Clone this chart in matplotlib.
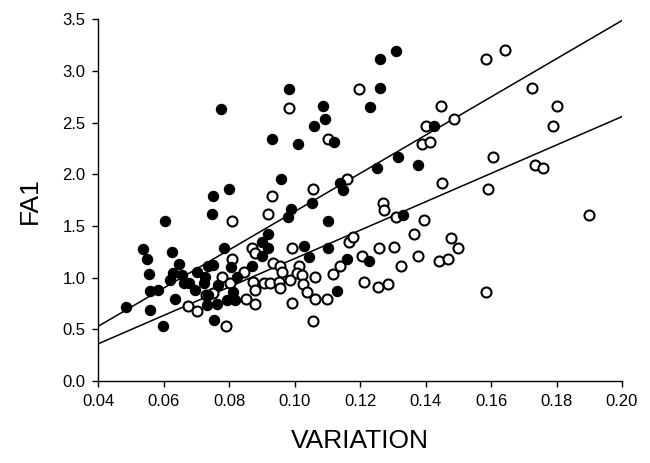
import numpy as np
import matplotlib
matplotlib.use("Agg")
from matplotlib import pyplot as plt

# group 1 (filled symbols)
filled_x = [0.0485, 0.0536, 0.0550, 0.0554, 0.0557, 0.0559, 0.0584, 0.0599, 0.0605, 0.0625,
            0.0630, 0.0648, 0.0620, 0.0635, 0.0656, 0.0661, 0.0676, 0.0696, 0.0701, 0.0722,
            0.0734, 0.0727, 0.0737, 0.0732, 0.0754, 0.0762, 0.0767, 0.0752, 0.0747, 0.0752,
            0.0775, 0.0785, 0.0801, 0.0793, 0.0818, 0.0812, 0.0805, 0.0824, 0.0869, 0.0900,
            0.0900, 0.0920, 0.0920, 0.0932, 0.0959, 0.0984, 0.0981, 0.0989, 0.1010, 0.1029,
            0.1045, 0.1053, 0.1060, 0.1086, 0.1093, 0.1103, 0.1103, 0.1121, 0.1129, 0.1139,
            0.1147, 0.1161, 0.1228, 0.1251, 0.1261, 0.1310, 0.1261, 0.1231, 0.1317, 0.1378,
            0.1427, 0.1330]
filled_y = [0.72, 1.28, 1.18, 1.04, 0.87, 0.69, 0.88, 0.53, 1.55, 1.25,
            1.05, 1.13, 0.98, 0.79, 1.03, 0.95, 0.95, 0.88, 1.06, 0.95,
            1.11, 1.01, 0.83, 0.74, 0.59, 0.75, 0.93, 1.12, 1.62, 1.79,
            2.63, 1.29, 1.86, 0.78, 0.78, 0.86, 1.10, 1.01, 1.11, 1.21,
            1.35, 1.29, 1.42, 2.34, 1.96, 2.83, 1.59, 1.67, 2.29, 1.31,
            1.20, 1.72, 2.47, 2.66, 2.54, 1.29, 1.55, 2.31, 0.87, 1.92,
            1.85, 1.18, 1.16, 2.06, 3.12, 3.19, 2.84, 2.65, 2.17, 2.09,
            2.47, 1.61]

# group 2 (open symbols)
open_x = [0.0674, 0.0703, 0.0730, 0.0752, 0.0777, 0.0790, 0.0803, 0.0808, 0.0808, 0.0844,
          0.0853, 0.0869, 0.0880, 0.0880, 0.0874, 0.0880, 0.0905, 0.0925, 0.0935, 0.0955,
          0.0960, 0.0951, 0.0955, 0.0920, 0.0930, 0.0984, 0.0991, 0.0987, 0.0993, 0.1012,
          0.1007, 0.1022, 0.1063, 0.1027, 0.1039, 0.1063, 0.1100, 0.1055, 0.1057, 0.1101,
          0.1160, 0.1198, 0.1118, 0.1139, 0.1167, 0.1177, 0.1205, 0.1211, 0.1254, 0.1284,
          0.1259, 0.1271, 0.1274, 0.1304, 0.1310, 0.1325, 0.1396, 0.1366, 0.1378, 0.1442,
          0.1469, 0.1478, 0.1498, 0.1451, 0.1390, 0.1414, 0.1402, 0.1446, 0.1487, 0.1583,
          0.1644, 0.1724, 0.1800, 0.1788, 0.1607, 0.1733, 0.1758, 0.1590, 0.1900, 0.1585]
open_y = [0.73, 0.68, 0.83, 0.85, 1.01, 0.53, 0.95, 1.18, 1.55, 1.06,
          0.79, 1.29, 1.24, 0.75, 0.96, 0.88, 0.95, 0.95, 1.14, 1.11,
          1.06, 0.96, 0.90, 1.62, 1.79, 2.64, 1.29, 0.98, 0.76, 1.11,
          1.05, 1.03, 1.01, 0.94, 0.86, 0.79, 0.79, 0.58, 1.86, 2.34,
          1.96, 2.83, 1.04, 1.11, 1.35, 1.39, 1.21, 0.96, 0.91, 0.94,
          1.29, 1.72, 1.66, 1.30, 1.59, 1.11, 1.56, 1.42, 1.21, 1.16,
          1.18, 1.38, 1.29, 1.92, 2.29, 2.31, 2.47, 2.66, 2.54, 3.12,
          3.20, 2.84, 2.66, 2.47, 2.17, 2.09, 2.06, 1.86, 1.61, 0.86]

# regression lines (slope, intercept)
filled_fit = (18.5, -0.21)
open_fit = (13.75, -0.19)

x_ticks = [0.04, 0.06, 0.08, 0.10, 0.12, 0.14, 0.16, 0.18, 0.20]
y_ticks = [0.0, 0.5, 1.0, 1.5, 2.0, 2.5, 3.0, 3.5]

plt.rcParams['font.family'] = ['Liberation Sans', 'DejaVu Sans']

fig = plt.figure(figsize=(6.5, 4.63), dpi=100)
ax = fig.add_axes([0.151, 0.177, 0.806, 0.781])

xs = np.array([0.04, 0.20])
for slope, icpt in (filled_fit, open_fit):
    ax.plot(xs, slope * xs + icpt, color='black', lw=1.1, zorder=2)

ax.scatter(open_x, open_y, s=52, facecolors='white', edgecolors='black',
           linewidths=1.5, zorder=3)
ax.scatter(filled_x, filled_y, s=52, facecolors='black', edgecolors='black',
           linewidths=1.0, zorder=4)

ax.set_xlim(0.04, 0.20)
ax.set_ylim(0.0, 3.5)
ax.set_xticks(x_ticks)
ax.set_xticklabels(['%.2f' % v for v in x_ticks])
ax.set_yticks(y_ticks)
ax.set_yticklabels(['%.1f' % v for v in y_ticks])
ax.tick_params(direction='out', length=4, width=1, labelsize=12, pad=5)

for side in ('top', 'right'):
    ax.spines[side].set_visible(False)
for side in ('left', 'bottom'):
    ax.spines[side].set_linewidth(1.0)
ax.spines['left'].set_bounds(0.0, 3.5)

ax.set_xlabel('VARIATION', fontsize=19, labelpad=15)
ax.set_ylabel('FA1', fontsize=19, labelpad=15)

fig.savefig('out.png', dpi=100)
